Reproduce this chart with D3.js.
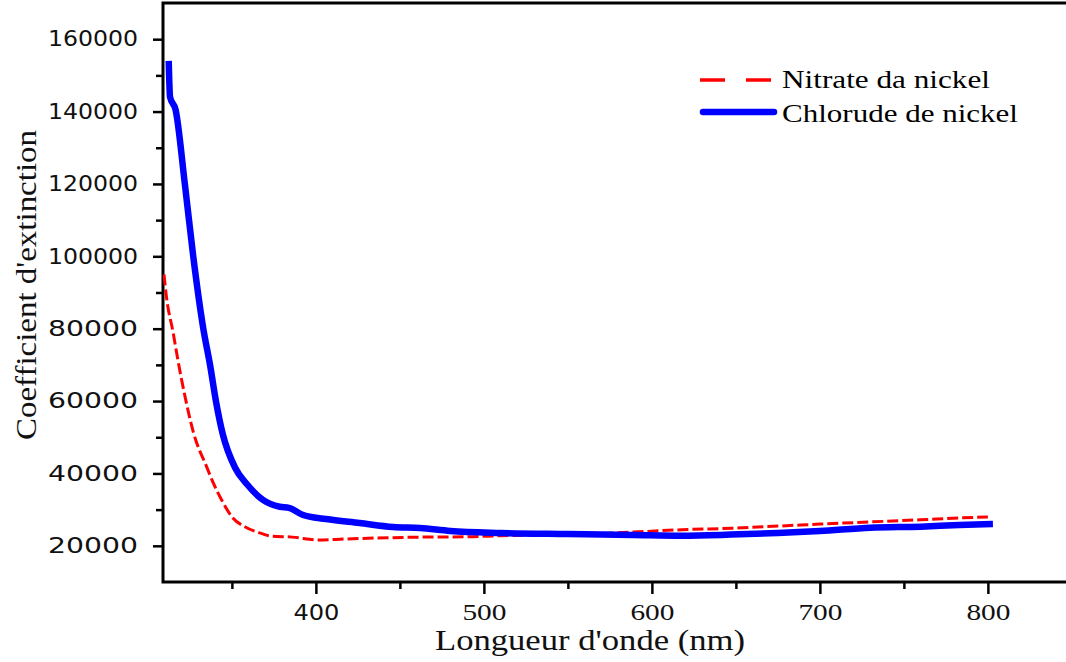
<!DOCTYPE html>
<html>
<head>
<meta charset="utf-8">
<script src="https://cdn.jsdelivr.net/npm/d3@7"></script>
<style>
  body { margin: 0; background: #fff; }
</style>
</head>
<body>
<div id="container"></div>
<script>
/* CONSTANTS AND GLOBALS */
const width = 1066;
const height = 662;
const plotLeft = 163, plotTop = 3, plotBottom = 582, plotRight = 1066;

/* DATA */
// Nitrate da nickel (red, dashed)
const nitrateNm = [309.6, 311, 315, 318, 322, 327, 335, 339, 344, 350, 358, 367, 373, 386, 402, 418, 436, 462, 490, 510, 550, 589, 618, 647, 675, 700, 730, 760, 783, 800];
const nitrateVal = [95000, 89000, 79000, 71000, 61500, 51500, 41800, 37300, 32600, 28000, 25200, 23500, 22700, 22400, 21600, 21900, 22150, 22400, 22500, 22800, 23100, 23800, 24450, 24850, 25450, 26000, 26600, 27200, 27700, 28000];

// Chlorude de nickel (blue, solid)
const chlorureNm = [312.4, 313.2, 316.5, 322, 327, 333, 337, 340.5, 344.5, 352, 359, 368.5, 378.5, 384, 392, 406, 426, 446, 462, 480, 510, 550, 589, 618, 647, 675, 700, 730, 760, 783, 803];
const chlorureVal = [154000, 144000, 140500, 120000, 100000, 80000, 70000, 60000, 51000, 41500, 37000, 32700, 30800, 30500, 28600, 27400, 26300, 25200, 24900, 24100, 23550, 23250, 23000, 22800, 23100, 23550, 24100, 25000, 25300, 25750, 26000];

const yTicks = [20000, 40000, 60000, 80000, 100000, 120000, 140000, 160000];
const yMinor = [30000, 50000, 70000, 90000, 110000, 130000, 150000];
const xTicks = [400, 500, 600, 700, 800];
const xMinor = [350, 450, 550, 650, 750];

const legendLabels = ["Nitrate da nickel", "Chlorude de nickel"];

/* SCALES */
const xScale = d3.scaleLinear()
  .domain([309, 846.5])
  .range([plotLeft, plotRight]);

const yScale = d3.scaleLinear()
  .domain([10000, 170000])
  .range([plotBottom, plotTop]);

/* HTML ELEMENTS */
const svg = d3.select("#container")
  .append("svg")
  .attr("width", width)
  .attr("height", height)
  .style("background", "#fff");

svg.append("defs").append("clipPath")
  .attr("id", "plot")
  .append("rect")
  .attr("x", plotLeft).attr("y", plotTop)
  .attr("width", plotRight - plotLeft).attr("height", plotBottom - plotTop);

// minor ticks first, majors on top
svg.append("g")
  .attr("transform", `translate(0,${plotBottom})`)
  .call(d3.axisBottom(xScale).tickValues(xMinor).tickSize(7).tickFormat(""))
  .call(g => g.select(".domain").remove())
  .selectAll("line").attr("stroke", "#000").attr("stroke-width", 2.5);

svg.append("g")
  .attr("transform", `translate(${plotLeft},0)`)
  .call(d3.axisLeft(yScale).tickValues(yMinor).tickSize(7).tickFormat(""))
  .call(g => g.select(".domain").remove())
  .selectAll("line").attr("stroke", "#000").attr("stroke-width", 2.5);

// x axis
const xAxis = svg.append("g")
  .attr("transform", `translate(0,${plotBottom})`)
  .call(d3.axisBottom(xScale).tickValues(xTicks).tickSize(12).tickSizeOuter(0).tickFormat(d3.format("d")));
xAxis.select(".domain").remove();
xAxis.attr("font-family", null);
xAxis.selectAll("line").attr("stroke", "#000").attr("stroke-width", 2.5);
xAxis.selectAll("text")
  .attr("y", 38).attr("dy", 0)
  .attr("fill", "#111")
  .attr("font-family", d => d === 400 ? "DejaVu Sans" : "Liberation Serif")
  .attr("font-size", d => d === 400 ? 21 : 24)
  .attr("textLength", d => d === 400 ? 46 : 44)
  .attr("lengthAdjust", "spacingAndGlyphs");

// y axis
const yAxis = svg.append("g")
  .attr("transform", `translate(${plotLeft},0)`)
  .call(d3.axisLeft(yScale).tickValues(yTicks).tickSize(10).tickPadding(15).tickSizeOuter(0).tickFormat(d3.format("d")));
yAxis.select(".domain").remove();
yAxis.selectAll("line").attr("stroke", "#000").attr("stroke-width", 2.5);
yAxis.selectAll("text")
  .attr("fill", "#111")
  .style("font-family", "'DejaVu Sans', sans-serif")
  .style("font-size", "21px")
  .attr("textLength", 90)
  .attr("lengthAdjust", "spacingAndGlyphs");

// frame (left, top, bottom; right side is off the page)
svg.append("path")
  .attr("d", `M${plotRight},${plotTop}H${plotLeft}V${plotBottom}H${plotRight}`)
  .attr("fill", "none")
  .attr("stroke", "#000")
  .attr("stroke-width", 3);

/* LINES */
const line = d3.line()
  .x(d => xScale(d[0]))
  .y(d => yScale(d[1]))
  .curve(d3.curveMonotoneX);

const plot = svg.append("g").attr("clip-path", "url(#plot)");

plot.append("path")
  .datum(d3.zip(nitrateNm, nitrateVal))
  .attr("d", line)
  .attr("fill", "none")
  .attr("stroke", "#ff0000")
  .attr("stroke-width", 3)
  .attr("stroke-dasharray", "11,4");

plot.append("path")
  .datum(d3.zip(chlorureNm, chlorureVal))
  .attr("d", line)
  .attr("fill", "none")
  .attr("stroke", "#0000ff")
  .attr("stroke-width", 6.5)
  .attr("stroke-linejoin", "round");

/* LEGEND */
svg.append("line")
  .attr("x1", 700).attr("x2", 771).attr("y1", 80).attr("y2", 80)
  .attr("stroke", "#ff0000").attr("stroke-width", 3.5)
  .attr("stroke-dasharray", "25,21");

svg.append("line")
  .attr("x1", 703).attr("x2", 774).attr("y1", 112).attr("y2", 112)
  .attr("stroke", "#0000ff").attr("stroke-width", 6.5)
  .attr("stroke-linecap", "round");

svg.selectAll(".legend-text")
  .data(legendLabels)
  .join("text")
  .attr("class", "legend-text")
  .attr("x", 782)
  .attr("y", (d, i) => 88 + i * 33.5)
  .attr("fill", "#000")
  .style("font-family", "'Liberation Serif', serif")
  .style("font-size", "25px")
  .attr("textLength", (d, i) => i === 0 ? 208 : 236)
  .attr("lengthAdjust", "spacingAndGlyphs")
  .text(d => d);

/* AXIS TITLES */
svg.append("text")
  .attr("x", 435)
  .attr("y", 650)
  .attr("fill", "#111")
  .style("font-family", "'Liberation Serif', serif")
  .style("font-size", "30px")
  .attr("textLength", 310)
  .attr("lengthAdjust", "spacingAndGlyphs")
  .text("Longueur d'onde (nm)");

svg.append("text")
  .attr("transform", "translate(36,440) rotate(-90)")
  .attr("fill", "#111")
  .style("font-family", "'Liberation Serif', serif")
  .style("font-size", "30px")
  .attr("textLength", 310)
  .attr("lengthAdjust", "spacingAndGlyphs")
  .text("Coefficient d'extinction");
</script>
</body>
</html>
